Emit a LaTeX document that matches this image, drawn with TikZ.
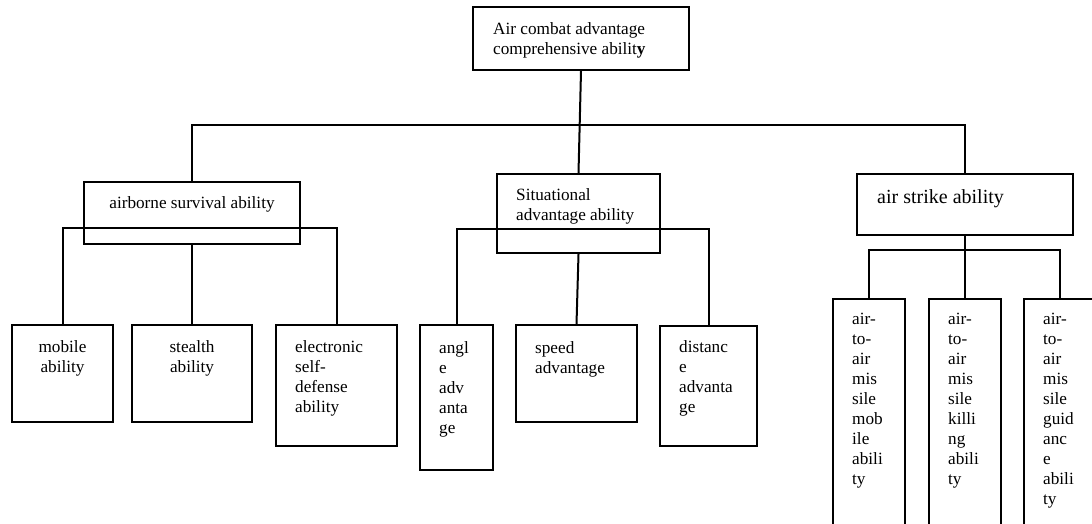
\documentclass[tikz,border=0pt]{standalone}
\usepackage{fontspec}
\setmainfont{Liberation Serif}
\begin{document}
\begin{tikzpicture}[x=1pt,y=-1pt,
  box/.style={draw, line width=2pt, inner sep=0pt, anchor=north west},
  lbl/.style={inner sep=0pt, anchor=north west, align=left, font=\fontsize{17.2}{20}\selectfont},
  clbl/.style={lbl, anchor=north, align=center},
  link/.style={line width=2pt}]
\useasboundingbox (0,0) rectangle (1092,524);
\clip (0,0) rectangle (1092,524);
% top level
\node[box, minimum width=216pt, minimum height=63pt] (root) at (472,6) {};
\node[lbl] (root-t) at ([shift={(21,13)}]root.north west) {\rule{0pt}{15pt}Air combat advantage\\comprehensive abilit\textbf{y}};
% second level
\node[box, minimum width=216pt, minimum height=62pt] (surv) at (83,181) {};
\node[clbl] (surv-t) at ([shift={(0,12)}]surv.north) {\rule{0pt}{15pt}airborne survival ability};
\node[box, minimum width=163pt, minimum height=79pt] (sit) at (496,173) {};
\node[lbl] (sit-t) at ([shift={(20,12)}]sit.north west) {\rule{0pt}{15pt}Situational\\advantage ability};
\node[box, minimum width=216pt, minimum height=61pt] (strike) at (856,173) {};
\node[lbl, font=\fontsize{20}{23}\selectfont] (strike-t) at ([shift={(21,15)}]strike.north west) {\rule{0pt}{15pt}air strike ability};
% third level
\node[box, minimum width=101pt, minimum height=97pt] (mob) at (11,324) {};
\node[clbl] (mob-t) at ([shift={(0,13)}]mob.north) {\rule{0pt}{15pt}mobile\\ability};
\node[box, minimum width=120pt, minimum height=97pt] (stealth) at (131,324) {};
\node[clbl] (stealth-t) at ([shift={(0,13)}]stealth.north) {\rule{0pt}{15pt}stealth\\ability};
\node[box, minimum width=121pt, minimum height=121pt] (elec) at (275,324) {};
\node[lbl] (elec-t) at ([shift={(20,13)}]elec.north west) {\rule{0pt}{15pt}electronic\\self-\\defense\\ability};
\node[box, minimum width=73pt, minimum height=145pt] (angle) at (419,324) {};
\node[lbl] (angle-t) at ([shift={(20,14)}]angle.north west) {\rule{0pt}{15pt}angl\\e\\adv\\anta\\ge};
\node[box, minimum width=121pt, minimum height=97pt] (speed) at (515,324) {};
\node[lbl] (speed-t) at ([shift={(20,14)}]speed.north west) {\rule{0pt}{15pt}speed\\advantage};
\node[box, minimum width=97pt, minimum height=120pt] (dist) at (659,325) {};
\node[lbl] (dist-t) at ([shift={(20,12)}]dist.north west) {\rule{0pt}{15pt}distanc\\e\\advanta\\ge};
\node[box, minimum width=72pt, minimum height=262pt] (mis1) at (832,298) {};
\node[lbl] (mis1-t) at ([shift={(20,11)}]mis1.north west) {\rule{0pt}{15pt}air-\\to-\\air\\mis\\sile\\mob\\ile\\abili\\ty};
\node[box, minimum width=72pt, minimum height=262pt] (mis2) at (928,298) {};
\node[lbl] (mis2-t) at ([shift={(20,11)}]mis2.north west) {\rule{0pt}{15pt}air-\\to-\\air\\mis\\sile\\killi\\ng\\abili\\ty};
\node[box, minimum width=72pt, minimum height=262pt] (mis3) at (1023,298) {};
\node[lbl] (mis3-t) at ([shift={(20,11)}]mis3.north west) {\rule{0pt}{15pt}air-\\to-\\air\\mis\\sile\\guid\\anc\\e\\abili\\ty};
% connectors
\coordinate (bus) at (580,125);
\coordinate (bus-surv) at (191,228);
\coordinate (bus-sit) at (577,229);
\coordinate (bus-strike) at (964,250);
\draw[link] (root.south) -- (sit.north);
\draw[link] (surv.north) |- (bus) -| (strike.north);
\draw[link] (mob.north) |- (bus-surv) -| (elec.north);
\draw[link] (surv.south) -- (stealth.north);
\draw[link] (angle.north) |- (bus-sit) -| (dist.north);
\draw[link] (sit.south) -- (speed.north);
\draw[link] (mis1.north) |- (bus-strike) -| (mis3.north);
\draw[link] (strike.south) -- (mis2.north);
\end{tikzpicture}
\end{document}
